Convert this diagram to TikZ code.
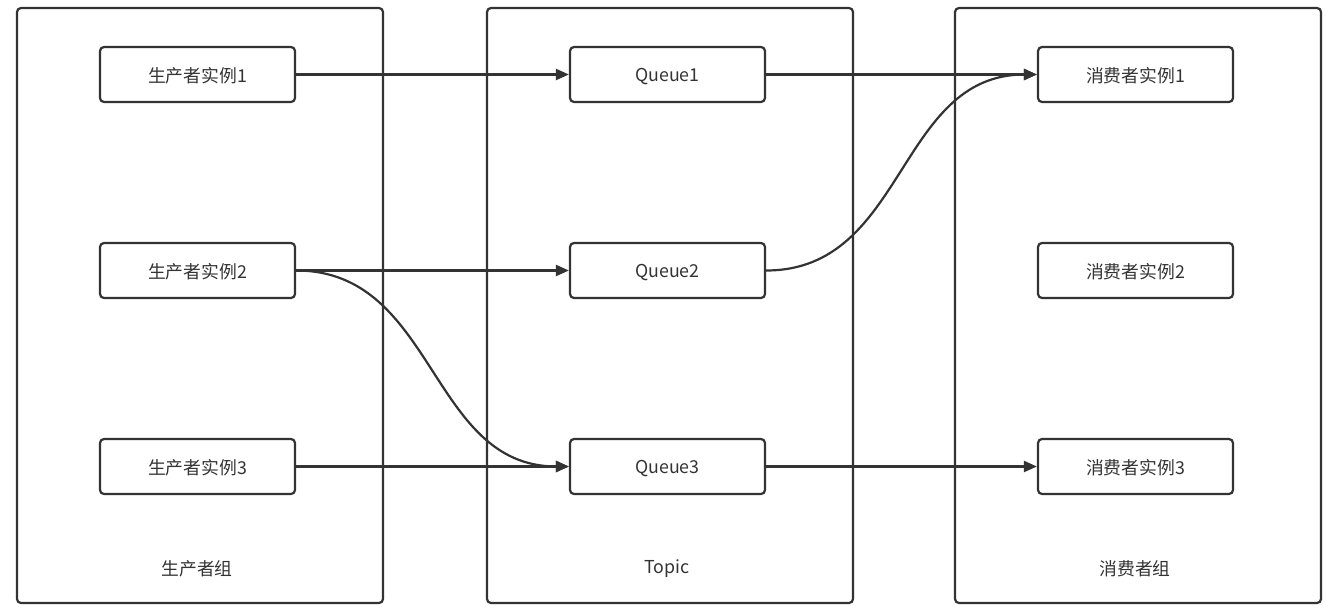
\documentclass[tikz,border=0pt]{standalone}
\usepackage{fontspec}
\setmainfont{Noto Sans CJK SC}
\usetikzlibrary{arrows.meta}
\definecolor{ink}{HTML}{333333}
\begin{document}
\begin{tikzpicture}[x=1pt,y=-1pt,
  group/.style={draw=ink,line width=2.2pt,rounded corners=4pt,minimum width=366pt,minimum height=595pt,inner sep=0pt},
  inst/.style={draw=ink,line width=2.2pt,rounded corners=4pt,minimum width=195pt,minimum height=55pt,inner sep=0pt,font=\fontsize{17.8}{20}\selectfont,text=ink,text depth=0pt,yshift=0pt},
  glabel/.style={font=\fontsize{17.8}{20}\selectfont,text=ink},
  conn/.style={draw=ink,line width=2.2pt,-{Triangle[length=13pt,width=11pt]}}]
\useasboundingbox (0,0) rectangle (1331,613);
\node[group] (pg) at (200,305.5) {};
\node[group] (tg) at (670,305.5) {};
\node[group] (cg) at (1138,305.5) {};
\node[glabel] (pgl) at (197,568.5) {生产者组};
\node[glabel] (tgl) at (667,568.5) {Topic};
\node[glabel] (cgl) at (1135,568.5) {消费者组};
\node[inst] (p1) at (197.5,74.5) {生产者实例1};
\node[inst] (p2) at (197.5,270.5) {生产者实例2};
\node[inst] (p3) at (197.5,466.5) {生产者实例3};
\node[inst] (q1) at (667.5,74.5) {Queue1};
\node[inst] (q2) at (667.5,270.5) {Queue2};
\node[inst] (q3) at (667.5,466.5) {Queue3};
\node[inst] (c1) at (1135.5,74.5) {消费者实例1};
\node[inst] (c2) at (1135.5,270.5) {消费者实例2};
\node[inst] (c3) at (1135.5,466.5) {消费者实例3};
\draw[conn] (p1.east) -- (q1.west);
\draw[conn] (p2.east) -- (q2.west);
\draw[conn] (p3.east) -- (q3.west);
\draw[conn] (p2.east) .. controls +(140,0) and +(-140,0) .. (q3.west);
\draw[conn] (q1.east) -- (c1.west);
\draw[conn] (q2.east) .. controls +(140,0) and +(-140,0) .. (c1.west);
\draw[conn] (q3.east) -- (c3.west);
\end{tikzpicture}
\end{document}
